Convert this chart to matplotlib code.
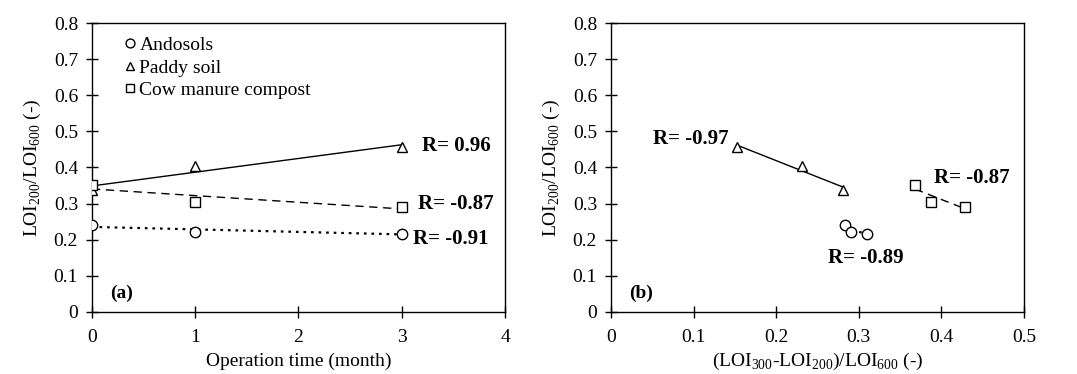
import matplotlib
matplotlib.use('Agg')
import matplotlib.pyplot as plt
import numpy as np

plt.rcParams['font.family'] = 'Liberation Serif'
plt.rcParams['mathtext.fontset'] = 'custom'
plt.rcParams['mathtext.rm'] = 'Liberation Serif'

# Data
months = [0, 1, 3]
ando_a = [0.240, 0.222, 0.217]
paddy_a = [0.337, 0.405, 0.457]
cow_a = [0.352, 0.305, 0.291]

ando_bx = [0.283, 0.290, 0.310]
paddy_bx = [0.281, 0.231, 0.152]
cow_bx = [0.368, 0.388, 0.429]

labels = ['Andosols', 'Paddy soil', 'Cow manure compost']
markers = ['o', '^', 's']
line_styles = [(0, (1.2, 2.2)), '-', (0, (6, 4))]

ylab = 'LOI$_{\\mathregular{200}}$/LOI$_{\\mathregular{600}}$ (-)'
xlab_b = '(LOI$_{\\mathregular{300}}$-LOI$_{\\mathregular{200}}$)/LOI$_{\\mathregular{600}}$ (-)'

fig = plt.figure(figsize=(10.77, 3.74), dpi=100)
ax1 = fig.add_axes([0.0854, 0.1658, 0.3835, 0.7727])
ax2 = fig.add_axes([0.5673, 0.1658, 0.3835, 0.7727])

mk = dict(ms=7.5, mfc='white', mec='black', mew=1.0, ls='none', zorder=3)


def fit_line(ax, x, y, ls, lw):
    p = np.polyfit(x, y, 1)
    xx = np.array([min(x), max(x)])
    ax.plot(xx, np.polyval(p, xx), color='black', ls=ls, lw=lw, zorder=2)


# Panel (a)
for y, lab, m, ls in zip([ando_a, paddy_a, cow_a], labels, markers, line_styles):
    ax1.plot(months, y, marker=m, label=lab, **mk)
    fit_line(ax1, months, y, ls, 1.6 if ls == line_styles[0] else 1.0)

ax1.set_xlim(0, 4)
ax1.set_ylim(0, 0.8)
ax1.set_xticks([0, 1, 2, 3, 4])
ax1.set_yticks(np.arange(0, 0.81, 0.1))
ax1.set_yticklabels(['0', '0.1', '0.2', '0.3', '0.4', '0.5', '0.6', '0.7', '0.8'])
ax1.set_xlabel('Operation time (month)', fontsize=14, labelpad=5)
ax1.set_ylabel(ylab, fontsize=14, labelpad=8)
ax1.legend(loc='upper left', frameon=False, fontsize=14, handletextpad=0.0,
           labelspacing=0.24, borderaxespad=0.3, handlelength=1.0,
           markerscale=0.85, bbox_to_anchor=(0.035, 1.0))
ax1.text(0.18, 0.053, '(a)', fontsize=14, fontweight='bold', va='center')
ax1.text(3.2, 0.46, 'R= 0.96', fontsize=15, fontweight='bold', va='center')
ax1.text(3.16, 0.299, 'R= -0.87', fontsize=15, fontweight='bold', va='center')
ax1.text(3.11, 0.202, 'R= -0.91', fontsize=15, fontweight='bold', va='center')

# Panel (b)
for x, y, m, ls in zip([ando_bx, paddy_bx, cow_bx], [ando_a, paddy_a, cow_a], markers, line_styles):
    ax2.plot(x, y, marker=m, **mk)
    fit_line(ax2, x, y, ls, 1.6 if ls == line_styles[0] else 1.0)

ax2.set_xlim(0, 0.5)
ax2.set_ylim(0, 0.8)
ax2.set_xticks([0, 0.1, 0.2, 0.3, 0.4, 0.5])
ax2.set_xticklabels(['0', '0.1', '0.2', '0.3', '0.4', '0.5'])
ax2.set_yticks(np.arange(0, 0.81, 0.1))
ax2.set_yticklabels(['0', '0.1', '0.2', '0.3', '0.4', '0.5', '0.6', '0.7', '0.8'])
ax2.set_xlabel(xlab_b, fontsize=14, labelpad=3.5)
ax2.set_ylabel(ylab, fontsize=14, labelpad=8)
ax2.text(0.022, 0.053, '(b)', fontsize=14, fontweight='bold', va='center')
ax2.text(0.051, 0.479, 'R= -0.97', fontsize=15, fontweight='bold', va='center')
ax2.text(0.391, 0.371, 'R= -0.87', fontsize=15, fontweight='bold', va='center')
ax2.text(0.263, 0.149, 'R= -0.89', fontsize=15, fontweight='bold', va='center')

for ax in (ax1, ax2):
    ax.tick_params(direction='inout', length=8, width=1, labelsize=14, pad=6)
    ax.tick_params(axis='x', pad=8)
    for s in ax.spines.values():
        s.set_linewidth(1.0)

fig.savefig('out.png', dpi=100)
